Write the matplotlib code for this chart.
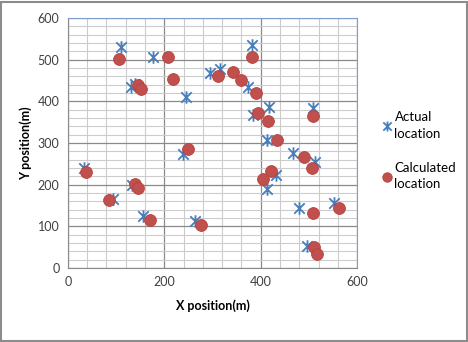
import numpy as np
import matplotlib.pyplot as plt
from matplotlib.path import Path
from matplotlib.patches import Rectangle

plt.rcParams['font.family'] = ['Lato', 'DejaVu Sans']

# actual node positions (m)
actual_x = [33, 94, 134, 156, 264, 110, 176, 130, 139, 245, 238, 295, 316, 381,
            374, 418, 385, 509, 413, 467, 513, 432, 413, 480, 553, 496]
actual_y = [240, 166, 200, 125, 113, 530, 507, 435, 443, 410, 274, 468, 478, 535,
            435, 386, 367, 384, 307, 276, 254, 223, 190, 144, 156, 53]

# calculated (estimated) positions (m)
calc_x = [37, 86, 139, 146, 170, 276, 106, 208, 218, 146, 151, 249, 312, 343, 359,
          390, 381, 416, 394, 508, 433, 490, 507, 421, 405, 509, 563, 511, 517]
calc_y = [230, 163, 202, 192, 115, 103, 501, 506, 453, 439, 431, 286, 461, 470, 451,
          420, 506, 353, 372, 365, 307, 267, 240, 233, 214, 132, 144, 50, 33]

# excel style star marker: X with a vertical bar
star = Path([(-1, -1), (1, 1), (-1, 1), (1, -1), (0, -1.2), (0, 1.2)],
            [Path.MOVETO, Path.LINETO, Path.MOVETO, Path.LINETO, Path.MOVETO, Path.LINETO])

fig = plt.figure(figsize=(4.68, 3.42), dpi=100)
fig.patches.append(Rectangle((0.003, 0.004), 0.994, 0.99, transform=fig.transFigure,
                             fill=False, edgecolor='#8c8c8c', linewidth=1.5))
ax = fig.add_axes([0.145, 0.216, 0.618, 0.731])

ax.set_xlim(0, 600)
ax.set_ylim(0, 600)
ax.set_xticks([0, 200, 400, 600])
ax.set_yticks(np.arange(0, 601, 100))
ax.set_xticks(np.arange(0, 601, 40), minor=True)
ax.set_yticks(np.arange(0, 601, 20), minor=True)
ax.grid(True, which='minor', color='#cccccc', linewidth=0.8)
ax.grid(True, which='major', color='#8a8a8a', linewidth=0.9)
ax.set_axisbelow(True)
ax.tick_params(which='both', length=0, labelsize=9, colors='#404040', pad=6)

for s in ['left', 'bottom']:
    ax.spines[s].set_color('#8a8a8a')
for s in ['top', 'right']:
    ax.spines[s].set_color('#7f9fcf')

ax.plot(actual_x, actual_y, linestyle='none', marker=star, markersize=9,
        markeredgecolor='#4a7ebb', markeredgewidth=1.3, markerfacecolor='none',
        label='Actual\nlocation')
ax.plot(calc_x, calc_y, linestyle='none', marker='o', markersize=8.5,
        markerfacecolor='#c0504d', markeredgecolor='#b8403c', markeredgewidth=0.6,
        label='Calculated\nlocation')

ax.set_xlabel('X position(m)', fontsize=9, fontweight='bold', labelpad=8)
ax.set_ylabel('Y position(m)', fontsize=9, fontweight='bold', labelpad=4)

leg = fig.legend(loc='upper left', bbox_to_anchor=(0.795, 0.71), frameon=False, fontsize=9.5,
                 handlelength=0.5, handletextpad=0.3, labelspacing=1.7, markerscale=0.8)
for t in leg.get_texts():
    t.set_linespacing(1.45)

fig.savefig('out.png', dpi=100)
